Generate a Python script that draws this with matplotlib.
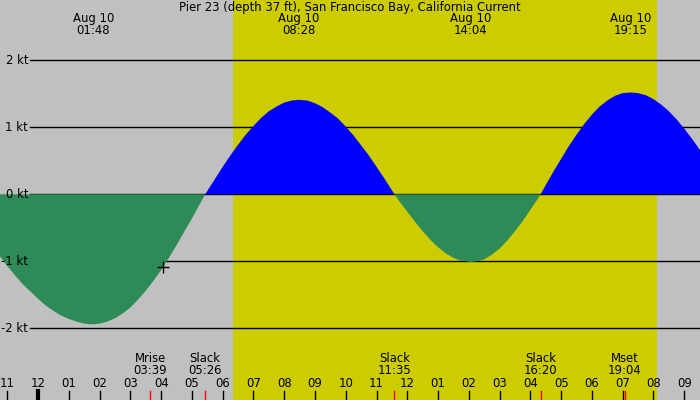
import numpy as np
import matplotlib.pyplot as plt
from matplotlib.transforms import blended_transform_factory

plt.rcParams['font.family'] = ['DejaVu Sans']

# current speed (kt), hours after midnight Aug 10
hours = [-1.5, -1.25, -1.0, -0.75, -0.5, -0.25, 0.0, 0.25, 0.5, 0.75, 1.0,
         1.25, 1.5, 1.65, 1.8, 2.0, 2.25, 2.5, 2.75, 3.0, 3.25, 3.5, 3.75,
         4.0, 4.25, 4.5, 4.75, 5.0, 5.25, 5.433, 5.5, 5.75, 6.0, 6.25, 6.5,
         6.75, 7.0, 7.25, 7.5, 7.75, 8.0, 8.25, 8.467, 8.75, 9.0, 9.25, 9.5,
         9.75, 10.0, 10.25, 10.5, 10.75, 11.0, 11.25, 11.5, 11.583, 11.75,
         12.0, 12.25, 12.5, 12.75, 13.0, 13.25, 13.5, 13.75, 14.067, 14.25,
         14.5, 14.75, 15.0, 15.25, 15.5, 15.75, 16.0, 16.25, 16.333, 16.5,
         16.75, 17.0, 17.25, 17.5, 17.75, 18.0, 18.25, 18.5, 18.75, 19.0,
         19.25, 19.5, 19.75, 20.0, 20.25, 20.5, 20.75, 21.0, 21.25, 21.5,
         21.75, 22.0]
speed = [-0.77, -0.92, -1.07, -1.21, -1.34, -1.45, -1.56, -1.66, -1.74, -1.81,
         -1.86, -1.90, -1.93, -1.94, -1.94, -1.93, -1.90, -1.85, -1.78, -1.69,
         -1.57, -1.44, -1.29, -1.13, -0.95, -0.76, -0.56, -0.36, -0.15, 0.0,
         0.05, 0.23, 0.41, 0.58, 0.74, 0.89, 1.02, 1.14, 1.24, 1.31, 1.37,
         1.40, 1.41, 1.40, 1.36, 1.30, 1.22, 1.13, 1.01, 0.88, 0.73, 0.58,
         0.41, 0.24, 0.06, 0.0, -0.11, -0.26, -0.41, -0.55, -0.68, -0.79,
         -0.88, -0.95, -0.99, -1.01, -1.00, -0.97, -0.90, -0.81, -0.69, -0.55,
         -0.40, -0.23, -0.06, 0.0, 0.14, 0.34, 0.53, 0.72, 0.89, 1.05, 1.19,
         1.31, 1.40, 1.47, 1.51, 1.52, 1.51, 1.48, 1.42, 1.34, 1.24, 1.12,
         0.98, 0.83, 0.67, 0.49, 0.31]

max_times = [1.8, 8.467, 14.067, 19.25]
max_labels = ['01:48', '08:28', '14:04', '19:15']
event_times = [3.65, 5.433, 11.583, 16.333, 19.067]
event_names = ['Mrise', 'Slack', 'Slack', 'Slack', 'Mset']
event_labels = ['03:39', '05:26', '11:35', '16:20', '19:04']
sunrise, sunset = 6.34, 20.12
now_time, now_speed = 4.07, -1.085
kt_levels = [2, 1, 0, -1, -2]
hour_ticks = list(range(-1, 22))
hour_labels = ['11', '12'] + ['%02d' % h for h in range(1, 13)] + ['%02d' % h for h in range(1, 10)]

fs = 8.4

fig = plt.figure(figsize=(7, 4), dpi=100)
ax = fig.add_axes([0, 0, 1, 1])
ax.set_xlim(-1.237, 21.512)
ax.set_ylim(-3.07, 2.9)
ax.axis('off')
ax.add_patch(plt.Rectangle((0, 0), 1, 1, transform=ax.transAxes,
                           color='#c0c0c0', zorder=0))

# daylight
ax.axvspan(sunrise, sunset, color='#cccc00', lw=0, zorder=0.5)

h = np.array(hours)
s = np.array(speed)
ax.fill_between(h, 0, s, where=s >= 0, interpolate=True, color='#0000ff', lw=0, zorder=2)
ax.fill_between(h, 0, s, where=s <= 0, interpolate=True, color='#2e8b57', lw=0, zorder=2)

ytr = blended_transform_factory(ax.transAxes, ax.transData)
for k in kt_levels:
    ax.axhline(k, xmin=30 / 700, xmax=1, color='black', lw=1, zorder=1)
    ax.text(28 / 700, k, '%d kt' % k, transform=ytr, ha='right', va='center',
            fontsize=fs, zorder=3)

ax.plot([now_time], [now_speed], marker='+', color='black', ms=9, mew=1, zorder=4)

xtr = ax.get_xaxis_transform()
for t, lab in zip(max_times, max_labels):
    ax.text(t, 1 - 12 / 400, 'Aug 10\n' + lab, transform=xtr, ha='center',
            va='top', fontsize=fs, linespacing=0.95)

for t, n, lab in zip(event_times, event_names, event_labels):
    ax.text(t, 1 - 377 / 400, n + '\n' + lab, transform=xtr, ha='center',
            va='bottom', fontsize=fs, linespacing=0.95)
    ax.plot([t, t], [0, 9 / 400], color='red', lw=1, transform=xtr, zorder=3)

for t, lab in zip(hour_ticks, hour_labels):
    ax.plot([t, t], [0, 9 / 400], color='black', lw=3 if t == 0 else 1,
            transform=xtr, zorder=3)
    ax.text(t, 10 / 400, lab, transform=xtr, ha='center', va='bottom', fontsize=fs)

ax.text(0.5, 1 - 1 / 400, 'Pier 23 (depth 37 ft), San Francisco Bay, California Current',
        transform=ax.transAxes, ha='center', va='top', fontsize=fs)

fig.savefig('out.png', dpi=100)
